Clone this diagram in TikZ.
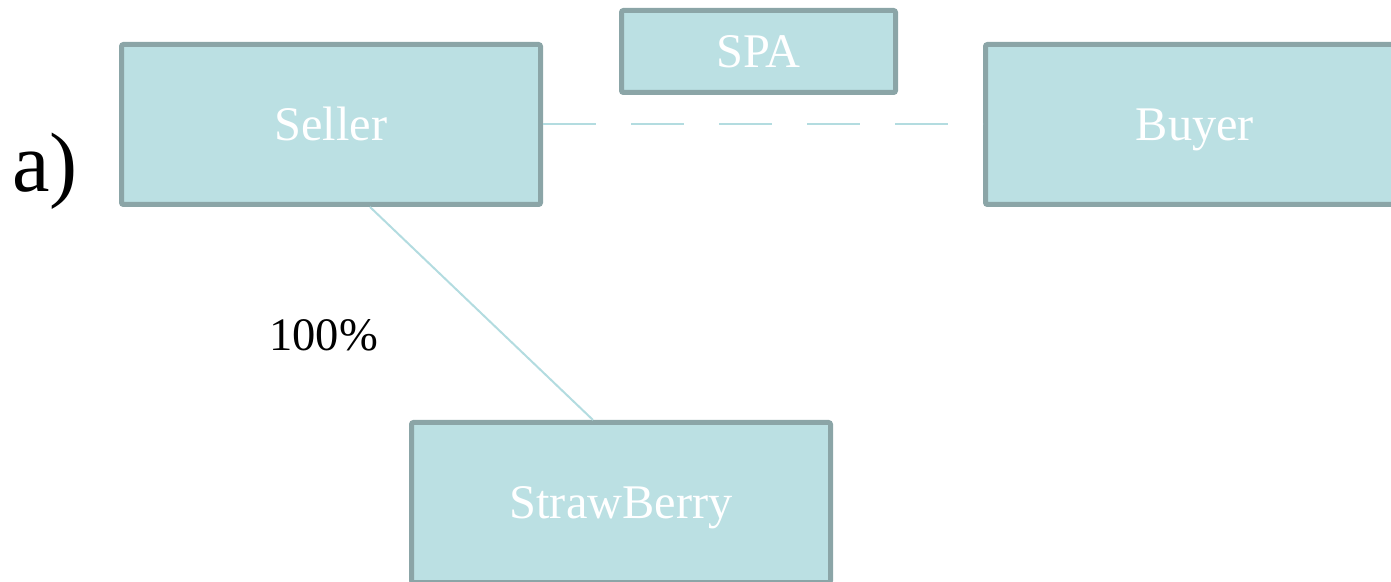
\documentclass[tikz,border=0pt]{standalone}
\usepackage{fontspec}
\setmainfont{Liberation Serif}
\usetikzlibrary{positioning}
\definecolor{boxfill}{HTML}{BBE0E3}
\definecolor{boxedge}{HTML}{8BA5A7}
\definecolor{linkline}{HTML}{B3DCE0}

\tikzset{
  party/.style={draw=boxedge, fill=boxfill, line width=0.1cm, rounded corners=0.04cm,
    minimum width=8.38cm, minimum height=3.2cm, inner sep=0pt, text=white,
    text height=18.5pt, text depth=0pt,
    font=\fontsize{27.5}{33}\selectfont},
  link/.style={draw=linkline, line width=0.04cm}
}

\begin{document}
\begin{tikzpicture}
      \useasboundingbox (0,0) rectangle (27.82,-11.64);

      % Draw the parties
      \node[party] (seller) at (6.62,-2.49) {Seller};
      \node[party] (buyer) at (23.9,-2.49) {Buyer};
      \node[party, minimum width=5.48cm, minimum height=1.64cm] (spa) at (15.17,-1.03) {SPA};
      \node[party] (straw) at (12.42,-10.05) {StrawBerry};

      % Add the labels
      \node[anchor=base west, inner sep=0pt, font=\fontsize{48}{56}\selectfont] (tag) at (0.24,-3.84) {a)};
      \node[anchor=base west, inner sep=0pt, font=\fontsize{26.5}{32}\selectfont] (share) at (5.38,-7.02) {100\%};

      % Add the connectors
      \draw[link, dash pattern=on 1.06cm off 0.7cm] (seller.east) -- (buyer.west);
      \draw[link] ([xshift=0.78cm]seller.south) -- ([xshift=-0.56cm]straw.north);
    \end{tikzpicture}
\end{document}
